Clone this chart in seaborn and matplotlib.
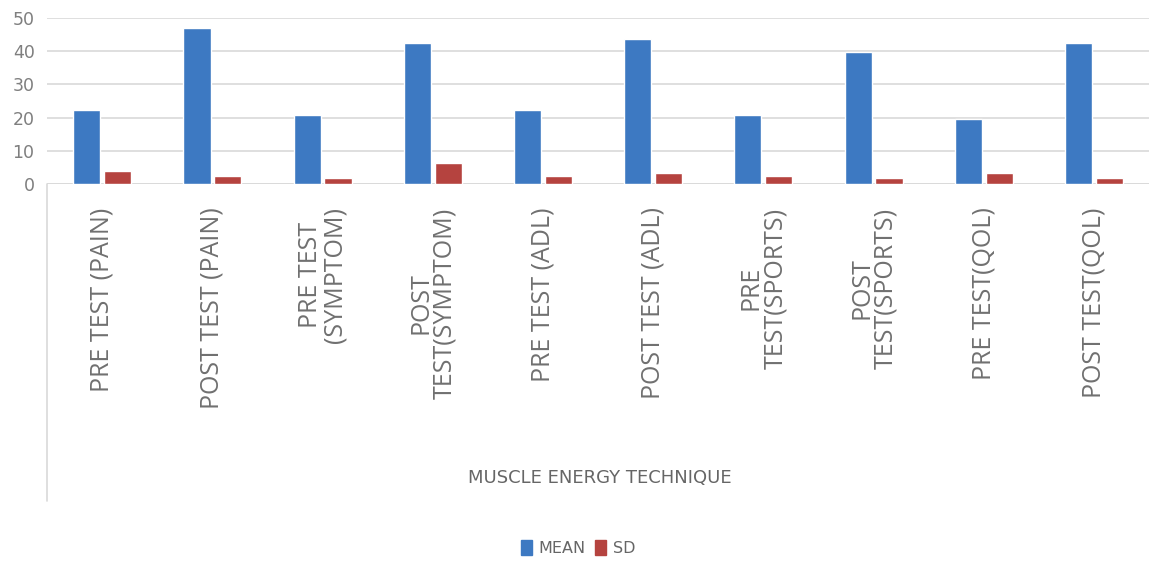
import pandas as pd
import matplotlib.pyplot as plt
import seaborn as sns
from matplotlib.lines import Line2D

# Data
categories = ["PRE TEST (PAIN)", "POST TEST (PAIN)", "PRE TEST\n(SYMPTOM)", "POST\nTEST(SYMPTOM)",
              "PRE TEST (ADL)", "POST TEST (ADL)", "PRE\nTEST(SPORTS)", "POST\nTEST(SPORTS)",
              "PRE TEST(QOL)", "POST TEST(QOL)"]
mean_vals = [22.2, 47.0, 20.7, 42.6, 22.2, 43.7, 20.7, 39.9, 19.7, 42.4]
sd_vals = [3.8, 2.5, 1.7, 6.4, 2.5, 3.2, 2.5, 1.7, 3.2, 1.7]
series = ["MEAN", "SD"]
colors = ["#3D79C2", "#B5433F"]

df = pd.DataFrame({
    "category": categories * 2,
    "value": mean_vals + sd_vals,
    "series": [series[0]] * len(categories) + [series[1]] * len(categories),
})

sns.set_style("white")
plt.rcParams['font.family'] = ['DejaVu Sans']

fig = plt.figure(figsize=(11.49, 5.69), dpi=100)
ax = fig.add_axes([0.041, 0.677, 0.959, 0.291])

sns.barplot(data=df, x="category", y="value", hue="series", palette=colors,
            saturation=1, width=0.56, gap=0.12, ax=ax, legend=False, zorder=3)

ax.set_ylim(0, 50)
ax.set_yticks(range(0, 51, 10))
ax.yaxis.grid(True, color="#D9D9D9", linewidth=1.2, zorder=0)
for s in ax.spines.values():
    s.set_visible(False)
ax.axhline(0, color="#D9D9D9", linewidth=1.2, zorder=1)
ax.tick_params(axis="y", length=0, labelsize=12.5, labelcolor="#7F7F7F", pad=9)
ax.tick_params(axis="x", length=0, pad=17)
ax.set_xticks(range(len(categories)))
ax.set_xticklabels(categories, rotation=90, ha="center", va="top", fontsize=18,
                   color="#707070", family=["Open Sans", "DejaVu Sans"], linespacing=0.95)
ax.set_xlabel("")
ax.set_ylabel("")

# category axis title
fig.text(0.522, 0.16, "MUSCLE ENERGY TECHNIQUE", ha="center", va="center",
         fontsize=13, color="#666666")

# faint vertical axis line below the plot
fig.add_artist(Line2D([0.041, 0.041], [0.677, 0.12], color="#D9D9D9", linewidth=1.2))

handles = [plt.Rectangle((0, 0), 1, 1, color=c) for c in colors]
fig.legend(handles, series, loc="center", bbox_to_anchor=(0.503, 0.037), ncol=2,
           frameon=False, fontsize=11.5, handlelength=0.7, handleheight=1.1,
           handletextpad=0.4, columnspacing=0.6, labelcolor="#666666")

fig.savefig("out.png", dpi=100)
